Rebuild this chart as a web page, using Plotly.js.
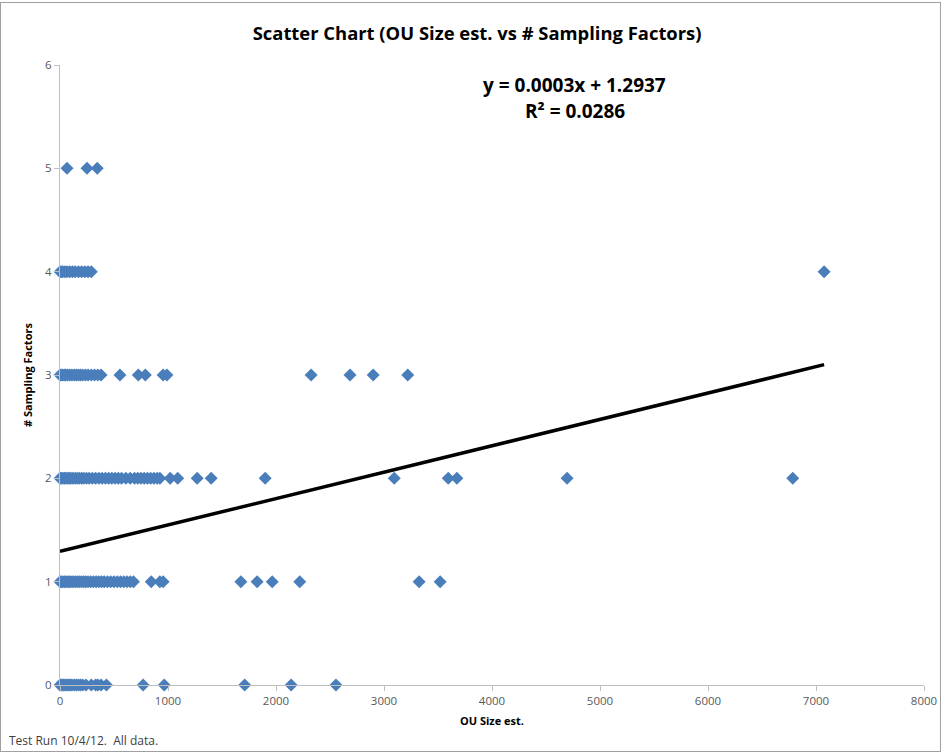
<!DOCTYPE html>
<html>
<head>
<meta charset="utf-8">
<script src="https://cdn.plot.ly/plotly-3.0.1.min.js"></script>
<style>
html,body{margin:0;padding:0;background:#fff;}
#wrap{position:relative;width:941px;height:752px;}
#chart{width:941px;height:752px;}
#frame{position:absolute;left:0;top:2px;width:939px;height:748px;border:1px solid #a0a0a0;pointer-events:none;}
</style>
</head>
<body>
<div id="wrap"><div id="chart"></div><div id="frame"></div></div>
<script>
// OU Size est. values for each # Sampling Factors level
const ouSize0 = [0,10,20,35,50,65,80,95,110,130,150,170,190,210,240,290,330,350,380,430,770,965,1710,2140,2555];
const ouSize1 = [0,10,25,40,55,70,85,100,120,140,160,180,200,220,240,260,285,310,335,360,385,410,440,470,500,530,560,590,620,650,680,845,925,955,1675,1825,1965,2220,3325,3520];
const ouSize2 = [0,10,25,40,55,70,85,100,120,140,160,180,200,220,245,270,300,330,360,390,420,450,480,510,540,570,610,650,690,720,750,780,810,840,870,900,925,1020,1090,1270,1400,1900,3095,3595,3675,4695,6785];
const ouSize3 = [0,10,25,40,55,70,90,110,130,150,170,190,210,235,260,290,320,350,380,555,725,790,955,990,2325,2685,2900,3220];
const ouSize4 = [0,10,25,45,65,90,115,140,170,200,230,260,290,7075];
const ouSize5 = [65,250,345];
const levels = [0,1,2,3,4,5];
const trendX = [0, 7075];
const trendY = [1.2937, 3.10];
const eqText = "y = 0.0003x + 1.2937";
const r2Text = "R² = 0.0286";

const groups = [ouSize0, ouSize1, ouSize2, ouSize3, ouSize4, ouSize5];
const xs = [], ys = [];
groups.forEach((g, i) => g.forEach(v => { xs.push(v); ys.push(levels[i]); }));

const font = "'Open Sans', Arial, sans-serif";

const data = [
  {x: xs, y: ys, type: 'scatter', mode: 'markers', cliponaxis: false,
   marker: {symbol: 'diamond', size: 10, color: '#4a7ebb'}, hoverinfo: 'x+y', showlegend: false},
  {x: trendX, y: trendY, type: 'scatter', mode: 'lines', line: {color: '#000', width: 3.5}, showlegend: false}
];

const layout = {
  width: 941, height: 752,
  margin: {l: 60, r: 17, t: 65, b: 67},
  paper_bgcolor: '#fff', plot_bgcolor: '#fff',
  font: {family: font, color: '#595959', size: 11},
  title: {text: '<b>Scatter Chart (OU Size est. vs # Sampling Factors)</b>', font: {family: font, size: 18.4, color: '#000'}, x: 0.507, xanchor: 'center', y: 0.955, yanchor: 'middle'},
  xaxis: {range: [0, 8000], dtick: 1000, tick0: 0, showgrid: false, zeroline: false, showline: true, linecolor: '#bfbfbf', linewidth: 1,
          ticks: 'outside', ticklen: 5, tickcolor: '#bfbfbf', tickfont: {size: 11.5, color: '#595959'},
          title: {text: '<b>OU Size est.</b>', font: {size: 11, color: '#000'}, standoff: 10}},
  yaxis: {range: [0, 6], dtick: 1, tick0: 0, showgrid: false, zeroline: false, showline: true, linecolor: '#bfbfbf', linewidth: 1,
          ticks: 'outside', ticklen: 5, tickcolor: '#bfbfbf', tickfont: {size: 11.5, color: '#595959'},
          title: {text: '<b># Sampling Factors</b>', font: {size: 11, color: '#000'}, standoff: 10}},
  annotations: [
    {text: '<b>' + eqText + '</b>', xref: 'paper', yref: 'paper', x: 0.596, y: 0.968, xanchor: 'center', yanchor: 'middle', showarrow: false, font: {size: 19, color: '#000', family: font}},
    {text: '<b>' + r2Text + '</b>', xref: 'paper', yref: 'paper', x: 0.596, y: 0.925, xanchor: 'center', yanchor: 'middle', showarrow: false, font: {size: 19, color: '#000', family: font}},
    {text: 'Test Run 10/4/12.  All data.', xref: 'paper', yref: 'paper', x: -53/864, y: -55/620, xanchor: 'left', yanchor: 'middle', showarrow: false, font: {size: 12, color: '#404040', family: font}}
  ]
};

Plotly.newPlot('chart', data, layout, {displayModeBar: false, staticPlot: true});
</script>
</body>
</html>
